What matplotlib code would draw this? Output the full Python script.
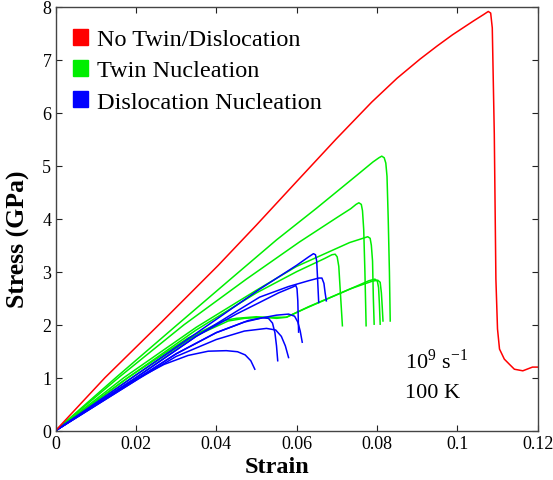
import matplotlib
matplotlib.use("Agg")
import matplotlib.pyplot as plt
from matplotlib.patches import Patch

plt.rcParams['font.family'] = ['Liberation Serif', 'DejaVu Serif']
plt.rcParams['mathtext.fontset'] = 'custom'
plt.rcParams['mathtext.rm'] = 'Liberation Serif'

# ---- data (strain, stress GPa) ----
red_x = [0, 0.0123, 0.0264, 0.0405, 0.050, 0.060, 0.0698, 0.0787, 0.085, 0.0907, 0.095, 0.0988, 0.104, 0.1065, 0.1077,
         0.1083, 0.1087, 0.1092, 0.1096, 0.1100, 0.1105, 0.1117, 0.1130, 0.1142, 0.1163, 0.1187, 0.12]
red_y = [0, 1.0, 2.05, 3.12, 3.88, 4.7, 5.5, 6.2, 6.65, 7.01, 7.26, 7.47, 7.73, 7.85, 7.91,
         7.88, 7.6, 5.6, 2.86, 1.92, 1.54, 1.35, 1.25, 1.16, 1.13, 1.2, 1.2]

green_x = [
    [0, 0.015, 0.03, 0.0434, 0.055, 0.065, 0.075, 0.079, 0.0805, 0.0812, 0.0818, 0.0822, 0.0825, 0.0828, 0.0831, 0.0833],
    [0, 0.016, 0.032, 0.0475, 0.0607, 0.070, 0.0735, 0.0748, 0.0755, 0.0761, 0.0764, 0.0767, 0.0770, 0.0773],
    [0, 0.017, 0.035, 0.050, 0.060, 0.0732, 0.0765, 0.0777, 0.0783, 0.0786, 0.0789, 0.0791, 0.0793],
    [0, 0.018, 0.035, 0.050, 0.060, 0.0670, 0.0688, 0.0696, 0.0701, 0.0705, 0.0709, 0.0714],
    [0, 0.018, 0.033, 0.042, 0.045, 0.050, 0.055, 0.0574, 0.062, 0.0732, 0.0780, 0.0795, 0.0801, 0.0804, 0.0806, 0.0808],
    [0, 0.019, 0.034, 0.043, 0.047, 0.052, 0.0575, 0.063, 0.0735, 0.0788, 0.0802, 0.0808, 0.0811, 0.0813, 0.0815],
]
green_y = [
    [0, 1.0, 1.98, 2.85, 3.6, 4.2, 4.82, 5.07, 5.15, 5.18, 5.15, 5.05, 4.8, 4.0, 3.0, 2.07],
    [0, 1.02, 2.0, 2.86, 3.56, 4.02, 4.19, 4.27, 4.30, 4.27, 4.15, 3.8, 3.0, 1.98],
    [0, 1.0, 1.95, 2.65, 3.1, 3.55, 3.63, 3.66, 3.63, 3.5, 3.2, 2.5, 2.01],
    [0, 1.0, 1.9, 2.6, 3.0, 3.25, 3.32, 3.33, 3.28, 3.1, 2.6, 1.98],
    [0, 1.0, 1.75, 2.08, 2.12, 2.15, 2.12, 2.14, 2.3, 2.67, 2.83, 2.86, 2.82, 2.7, 2.4, 2.01],
    [0, 1.0, 1.76, 2.07, 2.12, 2.14, 2.14, 2.34, 2.68, 2.82, 2.84, 2.8, 2.6, 2.35, 2.07],
]

blue_x = [
    [0, 0.02, 0.04, 0.0508, 0.060, 0.063, 0.0642, 0.0647, 0.0650, 0.0652, 0.0655],
    [0, 0.02, 0.035, 0.045, 0.0508, 0.058, 0.063, 0.0655, 0.0663, 0.0668, 0.0671, 0.0674],
    [0, 0.02, 0.035, 0.045, 0.0508, 0.0555, 0.0590, 0.0598, 0.0601, 0.0603, 0.0604, 0.0605],
    [0, 0.02, 0.030, 0.040, 0.048, 0.055, 0.0580, 0.0595, 0.0603, 0.0609, 0.0614],
    [0, 0.02, 0.030, 0.040, 0.047, 0.0515, 0.0530, 0.0540, 0.0546, 0.0550, 0.0553],
    [0, 0.02, 0.030, 0.040, 0.047, 0.0525, 0.0548, 0.0562, 0.0572, 0.0580],
    [0, 0.01, 0.02, 0.027, 0.033, 0.038, 0.0425, 0.0453, 0.0472, 0.0486, 0.0496],
]
blue_y = [
    [0, 1.05, 2.1, 2.67, 3.12, 3.28, 3.34, 3.32, 3.2, 2.9, 2.42],
    [0, 1.0, 1.78, 2.25, 2.52, 2.72, 2.83, 2.88, 2.88, 2.78, 2.6, 2.45],
    [0, 1.0, 1.78, 2.2, 2.42, 2.6, 2.71, 2.74, 2.68, 2.45, 2.15, 1.86],
    [0, 0.95, 1.45, 1.85, 2.08, 2.18, 2.2, 2.16, 2.05, 1.88, 1.67],
    [0, 0.97, 1.45, 1.85, 2.05, 2.13, 2.12, 2.03, 1.85, 1.6, 1.32],
    [0, 0.95, 1.4, 1.72, 1.88, 1.93, 1.9, 1.78, 1.6, 1.38],
    [0, 0.5, 0.97, 1.25, 1.42, 1.5, 1.51, 1.49, 1.43, 1.32, 1.16],
]

legend_labels = ['No Twin/Dislocation', 'Twin Nucleation', 'Dislocation Nucleation']
colors = ['#ff0000', '#00ee00', '#0000ff']

xticks = [0, 0.02, 0.04, 0.06, 0.08, 0.1, 0.12]
xtick_labels = ['0', '0.02', '0.04', '0.06', '0.08', '0.1', '0.12']
yticks = [0, 1, 2, 3, 4, 5, 6, 7, 8]

fig = plt.figure(figsize=(5.53, 4.81), dpi=100)
ax = fig.add_axes([0.1004, 0.1025, 0.8719, 0.8815])

for gx, gy in zip(green_x, green_y):
    ax.plot(gx, gy, color=colors[1], lw=1.1)
for bx, by in zip(blue_x, blue_y):
    ax.plot(bx, by, color=colors[2], lw=1.1)
ax.plot(red_x, red_y, color=colors[0], lw=1.1)

ax.set_xlim(0, 0.12)
ax.set_ylim(0, 8)
ax.set_xticks(xticks)
ax.set_xticklabels(xtick_labels)
ax.set_yticks(yticks)
ax.tick_params(direction='in', length=4, width=0.8, top=True, right=True,
               labelsize=13, pad=3, colors='#222222')
for lab in ax.get_xticklabels() + ax.get_yticklabels():
    lab.set_color('black')
for s in ax.spines.values():
    s.set_color('#444444')
    s.set_linewidth(1.0)

ax.set_xlabel('Strain', fontsize=17.5, fontweight='bold')
ax.xaxis.set_label_coords(0.46, -0.06)
ax.set_ylabel('Stress (GPa)', fontsize=18.5, fontweight='bold')
ax.yaxis.set_label_coords(-0.052, 0.453)

handles = [Patch(facecolor=c, edgecolor=c) for c in colors]
ax.legend(handles, legend_labels, loc='upper left', frameon=False, fontsize=17.5,
          handlelength=0.62, handleheight=0.62, handletextpad=0.4,
          labelspacing=0.4, borderaxespad=0.3, bbox_to_anchor=(0.0, 0.988))

ax.text(0.087, 1.18, '10$^{9}$ s$^{-1}$', fontsize=16, ha='left', va='baseline')
ax.text(0.087, 0.63, '100 K', fontsize=16, ha='left', va='baseline')

fig.savefig('out.png', dpi=100)
